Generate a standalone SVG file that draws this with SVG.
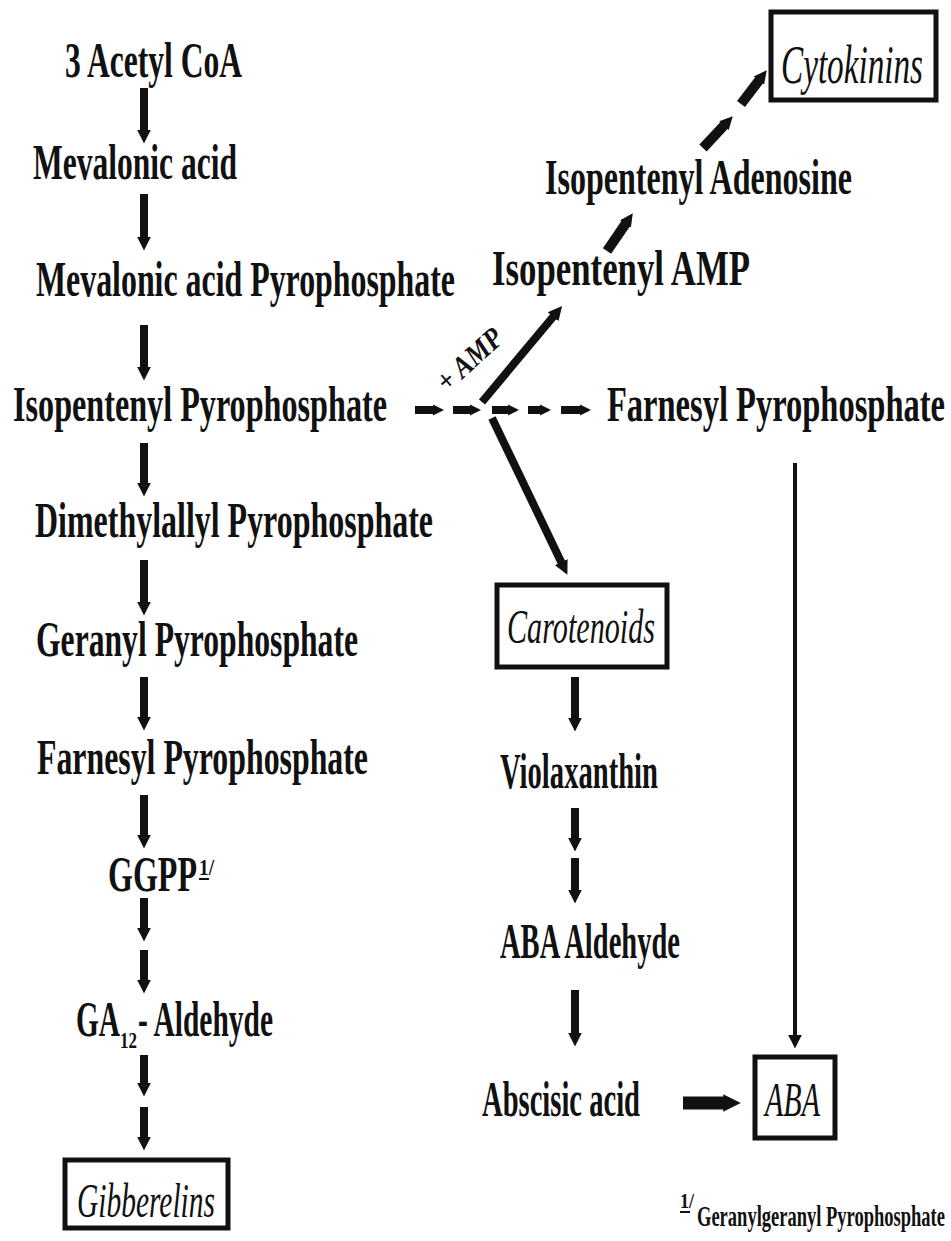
<svg xmlns="http://www.w3.org/2000/svg" width="951" height="1241" viewBox="0 0 951 1241">
<defs>
<style>
text{font-family:"Liberation Serif","Times New Roman",serif;font-weight:bold;fill:#111;}
.t{font-size:50px;}
.i{font-size:48px;font-style:italic;font-weight:normal;}
.sm{font-size:24px;}
.box{fill:none;stroke:#111;stroke-width:5;}
.a{stroke:#111;stroke-width:8;fill:none;}
.d{stroke:#111;stroke-width:10;fill:none;}
</style>
<marker id="ah" viewBox="0 0 10 10" refX="1" refY="5" markerWidth="1.75" markerHeight="2.3" orient="auto" markerUnits="strokeWidth"><path d="M0,0 L10,5 L0,10 z" fill="#111"/></marker>
<marker id="ahs" viewBox="0 0 10 10" refX="1" refY="5" markerWidth="1.4" markerHeight="2.2" orient="auto" markerUnits="strokeWidth"><path d="M0,0 L10,5 L0,10 z" fill="#111"/></marker>
<marker id="ahd" viewBox="0 0 10 10" refX="1" refY="5" markerWidth="1.3" markerHeight="2" orient="auto" markerUnits="strokeWidth"><path d="M0,0 L10,5 L0,10 z" fill="#111"/></marker>
<marker id="aht" viewBox="0 0 10 10" refX="1" refY="5" markerWidth="3.5" markerHeight="3.6" orient="auto" markerUnits="strokeWidth"><path d="M0,0 L10,5 L0,10 z" fill="#111"/></marker>
<marker id="ahb" viewBox="0 0 10 10" refX="1" refY="5" markerWidth="1.35" markerHeight="2" orient="auto" markerUnits="strokeWidth"><path d="M0,0 L10,5 L0,10 z" fill="#111"/></marker>
</defs>
<rect width="951" height="1241" fill="#fff"/>

<g id="connectors">
<line class="a" x1="144" y1="88" x2="144" y2="131" marker-end="url(#ah)"/>
<line class="a" x1="144" y1="194" x2="144" y2="238" marker-end="url(#ah)"/>
<line class="a" x1="144" y1="325" x2="144" y2="368" marker-end="url(#ah)"/>
<line class="a" x1="144" y1="443" x2="144" y2="484" marker-end="url(#ah)"/>
<line class="a" x1="144" y1="560" x2="144" y2="603" marker-end="url(#ah)"/>
<line class="a" x1="144" y1="677" x2="144" y2="718" marker-end="url(#ah)"/>
<line class="a" x1="144" y1="795" x2="144" y2="836" marker-end="url(#ah)"/>
<line class="a" x1="144" y1="898" x2="144" y2="929" marker-end="url(#ah)"/>
<line class="a" x1="144" y1="950" x2="144" y2="981" marker-end="url(#ah)"/>
<line class="a" x1="144" y1="1055" x2="144" y2="1084" marker-end="url(#ah)"/>
<line class="a" x1="144" y1="1107" x2="144" y2="1138" marker-end="url(#ah)"/>

<line class="a" x1="575" y1="677" x2="575" y2="719" marker-end="url(#ah)"/>
<line class="a" x1="575" y1="808" x2="575" y2="839" marker-end="url(#ah)"/>
<line class="a" x1="575" y1="858" x2="575" y2="891" marker-end="url(#ah)"/>
<line class="a" x1="575" y1="990" x2="575" y2="1034" marker-end="url(#ah)"/>

<line class="a" x1="415" y1="410" x2="434" y2="410" marker-end="url(#ahs)"/>
<line class="a" x1="453" y1="410" x2="471" y2="410" marker-end="url(#ahs)"/>
<line class="a" x1="492" y1="410" x2="509" y2="410" marker-end="url(#ahs)"/>
<line class="a" x1="528" y1="410" x2="541" y2="410" marker-end="url(#ahs)"/>
<line class="a" x1="561" y1="410" x2="581" y2="410" marker-end="url(#ahs)"/>

<line class="a" x1="482" y1="402" x2="554" y2="315.7" marker-end="url(#ah)"/>
<line class="a" x1="492" y1="418" x2="561.9" y2="563.4" marker-end="url(#ah)"/>

<line class="d" x1="607" y1="251" x2="626.2" y2="222.9" marker-end="url(#ahd)"/>
<line class="d" x1="703" y1="148" x2="724.8" y2="124.7" marker-end="url(#ahd)"/>
<line class="d" x1="741" y1="104" x2="759.7" y2="79.5" marker-end="url(#ahd)"/>

<line stroke="#111" stroke-width="4" x1="795" y1="463" x2="795" y2="1036" marker-end="url(#aht)"/>
<line stroke="#111" stroke-width="13" x1="683" y1="1103" x2="725" y2="1103" marker-end="url(#ahb)"/>
</g>

<g id="n-acetyl"><text class="t" x="65" y="77" textLength="177" lengthAdjust="spacingAndGlyphs">3 Acetyl CoA</text></g>
<g id="n-mev"><text class="t" x="33" y="179" textLength="204" lengthAdjust="spacingAndGlyphs">Mevalonic acid</text></g>
<g id="n-mevpp"><text class="t" x="36" y="296" textLength="419" lengthAdjust="spacingAndGlyphs">Mevalonic acid Pyrophosphate</text></g>
<g id="n-ipp"><text class="t" x="13" y="421" textLength="374" lengthAdjust="spacingAndGlyphs">Isopentenyl Pyrophosphate</text></g>
<g id="n-dmapp"><text class="t" x="35" y="537" textLength="398" lengthAdjust="spacingAndGlyphs">Dimethylallyl Pyrophosphate</text></g>
<g id="n-gpp"><text class="t" x="36" y="656" textLength="322" lengthAdjust="spacingAndGlyphs">Geranyl Pyrophosphate</text></g>
<g id="n-fpp"><text class="t" x="37" y="774" textLength="331" lengthAdjust="spacingAndGlyphs">Farnesyl Pyrophosphate</text></g>
<g id="n-ggpp">
<text class="t" x="108" y="891" textLength="89" lengthAdjust="spacingAndGlyphs">GGPP</text>
<text class="sm" x="199" y="875" textLength="15" lengthAdjust="spacingAndGlyphs">1/</text>
<line x1="199" y1="879" x2="209" y2="879" stroke="#111" stroke-width="2"/>
</g>
<g id="n-ga12">
<text class="t" x="76" y="1036" textLength="44" lengthAdjust="spacingAndGlyphs">GA</text>
<text class="sm" x="120" y="1048" textLength="17" lengthAdjust="spacingAndGlyphs">12</text>
<text class="t" x="138" y="1036" textLength="135" lengthAdjust="spacingAndGlyphs">- Aldehyde</text>
</g>
<g id="n-gib">
<rect class="box" x="65" y="1160" width="163" height="68"/>
<text class="i" x="77" y="1217" textLength="138" lengthAdjust="spacingAndGlyphs">Gibberelins</text>
</g>

<g id="n-cyto">
<rect class="box" x="771" y="12" width="165" height="88"/>
<text class="i" x="781" y="83" textLength="142" lengthAdjust="spacingAndGlyphs" style="font-size:54px">Cytokinins</text>
</g>
<g id="n-ipa"><text class="t" x="545" y="194" textLength="307" lengthAdjust="spacingAndGlyphs">Isopentenyl Adenosine</text></g>
<g id="n-ipamp"><text class="t" x="492" y="285" textLength="258" lengthAdjust="spacingAndGlyphs">Isopentenyl AMP</text></g>
<g id="n-fpp2"><text class="t" x="607" y="421" textLength="338" lengthAdjust="spacingAndGlyphs">Farnesyl Pyrophosphate</text></g>
<g id="l-amp"><text x="0" y="0" transform="translate(447,393) rotate(-42)" style="font-size:30px;font-style:italic" textLength="78" lengthAdjust="spacingAndGlyphs">+ AMP</text></g>
<g id="n-carot">
<rect class="box" x="497" y="585" width="170" height="82"/>
<text class="i" x="507" y="643" textLength="148" lengthAdjust="spacingAndGlyphs">Carotenoids</text>
</g>
<g id="n-viola"><text class="t" x="500" y="788" textLength="158" lengthAdjust="spacingAndGlyphs">Violaxanthin</text></g>
<g id="n-abaald"><text class="t" x="500" y="958" textLength="180" lengthAdjust="spacingAndGlyphs">ABA Aldehyde</text></g>
<g id="n-absc"><text class="t" x="482" y="1116" textLength="158" lengthAdjust="spacingAndGlyphs">Abscisic acid</text></g>
<g id="n-aba">
<rect class="box" x="755" y="1057" width="80" height="81"/>
<text class="i" x="765" y="1116" textLength="55" lengthAdjust="spacingAndGlyphs">ABA</text>
</g>
<g id="footnote">
<text x="680" y="1208" style="font-size:22px" textLength="14" lengthAdjust="spacingAndGlyphs">1/</text>
<line x1="680" y1="1212" x2="690" y2="1212" stroke="#111" stroke-width="2"/>
<text x="697" y="1226" style="font-size:30px" textLength="248" lengthAdjust="spacingAndGlyphs">Geranylgeranyl Pyrophosphate</text>
</g>
</svg>
